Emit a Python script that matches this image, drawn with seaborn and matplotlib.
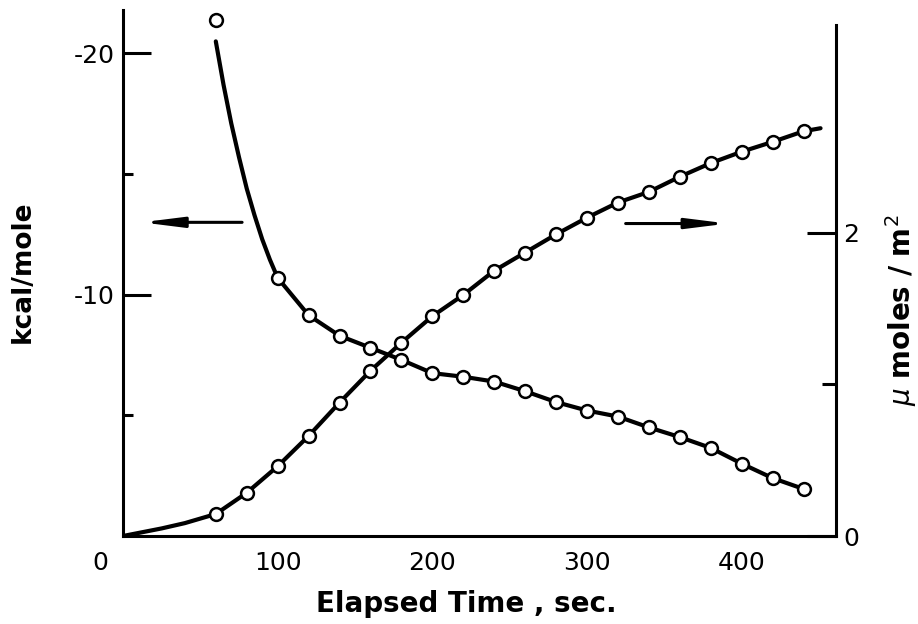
import matplotlib
matplotlib.use("Agg")
import matplotlib.pyplot as plt
from matplotlib.transforms import offset_copy
import pandas as pd
import seaborn as sns

# Elapsed time of each measurement (s)
time_s = [60, 80, 100, 120, 140, 160, 180, 200, 220, 240,
          260, 280, 300, 320, 340, 360, 380, 400, 420, 440]

# Heat of adsorption, kcal/mole (left axis); no reading at 80 s
heat_time = [60, 100, 120, 140, 160, 180, 200, 220, 240, 260,
             280, 300, 320, 340, 360, 380, 400, 420, 440]
heat_kcal = [-21.4, -10.7, -9.15, -8.3, -7.8, -7.3, -6.75, -6.6, -6.4, -6.0,
             -5.55, -5.2, -4.95, -4.5, -4.1, -3.65, -3.0, -2.4, -1.95]

# Drawn curve through the heat readings (starts just under the first point)
heat_curve_time = [60, 65, 70, 75, 80, 85, 90, 95] + heat_time[1:]
heat_curve_kcal = [-20.5, -18.7, -17.1, -15.7, -14.4, -13.3, -12.3, -11.45] + heat_kcal[1:]

# Amount adsorbed, micromoles/m^2 (right axis)
ads_umol = [0.145, 0.285, 0.46, 0.66, 0.88, 1.09, 1.275, 1.45, 1.59, 1.75,
            1.87, 1.99, 2.10, 2.20, 2.27, 2.37, 2.46, 2.535, 2.60, 2.67]

# Drawn curve for the adsorbed amount, from the origin to past the last point
ads_curve_time = [0, 25, 40] + time_s + [451]
ads_curve_umol = [0.0, 0.05, 0.085] + ads_umol + [2.69]

x_ticks = [100, 200, 300, 400]
left_major = [-20, -10]
left_minor = [-15, -5]
right_major = [0, 2]
right_minor = [1]

heat_pts = pd.DataFrame({"t": heat_time, "v": heat_kcal})
heat_line = pd.DataFrame({"t": heat_curve_time, "v": heat_curve_kcal})
ads_pts = pd.DataFrame({"t": time_s, "v": ads_umol})
ads_line = pd.DataFrame({"t": ads_curve_time, "v": ads_curve_umol})

sns.set_style("white")
plt.rcParams["font.family"] = ["DejaVu Sans"]
plt.rcParams["axes.unicode_minus"] = False
for key in ("text.color", "axes.labelcolor", "xtick.color", "ytick.color",
            "axes.edgecolor"):
    plt.rcParams[key] = "black"

fig = plt.figure(figsize=(9.18, 6.24), dpi=100)
ax = fig.add_axes([123 / 918, 88 / 624, 713 / 918, 526 / 624])
ax2 = ax.twinx()

line_kw = dict(color="black", linewidth=3.0, legend=False)
pt_kw = dict(s=85, facecolor="white", edgecolor="black", linewidth=1.8,
             zorder=5, legend=False)

sns.lineplot(data=heat_line, x="t", y="v", ax=ax, **line_kw)
sns.scatterplot(data=heat_pts, x="t", y="v", ax=ax, **pt_kw)
sns.lineplot(data=ads_line, x="t", y="v", ax=ax2, **line_kw)
sns.scatterplot(data=ads_pts, x="t", y="v", ax=ax2, **pt_kw)

ax.set_xlim(0, 461)
ax.set_ylim(0, -21.8)
ax2.set_ylim(0, 3.47)

# Spines
for a in (ax, ax2):
    a.spines["top"].set_visible(False)
    for s in a.spines.values():
        s.set_linewidth(2.2)
        s.set_color("black")
ax.spines["right"].set_visible(False)
ax2.spines["left"].set_visible(False)
ax2.spines["bottom"].set_visible(False)
ax2.spines["right"].set_bounds(0, 3.37)

# Ticks
ax.set_xticks(x_ticks)
ax.set_xticklabels([str(v) for v in x_ticks])
ax.set_yticks(left_major)
ax.set_yticklabels([str(v) for v in left_major])
ax.set_yticks(left_minor, minor=True)
ax2.set_yticks(right_major)
ax2.set_yticklabels([str(v) for v in right_major])
ax2.set_yticks(right_minor, minor=True)

ax.tick_params(axis="x", which="major", direction="in", length=20, width=2.2,
               pad=11, labelsize=18, colors="black")
ax.tick_params(axis="y", which="major", direction="in", length=20, width=2.2,
               pad=6, labelsize=18, colors="black")
ax.tick_params(axis="y", which="minor", direction="in", length=7, width=2.2,
               colors="black")
ax2.tick_params(axis="y", which="major", direction="in", length=21, width=2.2,
                pad=5, labelsize=18, colors="black")
ax2.tick_params(axis="y", which="minor", direction="in", length=10, width=2.2,
                colors="black")

# Shared origin label
ax.text(0, 0, "0", fontsize=18, ha="center", va="center", color="black",
        transform=offset_copy(ax.transData, fig=fig, x=-23, y=-27, units="dots"))

# Axis titles
ax.set_xlabel("Elapsed Time , sec.", fontsize=20, fontweight="semibold")
ax.xaxis.set_label_coords(0.481, -0.103)
ax.set_ylabel("kcal/mole", fontsize=19, fontweight="bold")
ax.yaxis.set_label_coords(-0.123, 0.502)
ax2.set_ylabel(r"$\mu$ moles / m$^2$", fontsize=20, fontweight="bold")
ax2.yaxis.set_label_coords(1.066, 0.43)

# Arrows pointing each curve to its axis
arrow_kw = dict(arrowstyle="-|>,head_length=1.2,head_width=0.15", lw=2.2,
                color="black", mutation_scale=20, shrinkA=0, shrinkB=0)
ax.annotate("", xy=(12, -13.0), xytext=(77, -13.0), arrowprops=arrow_kw)
ax.annotate("", xy=(391, -12.95), xytext=(325, -12.95), arrowprops=arrow_kw)

ax.set_facecolor("white")
fig.savefig("out.png", dpi=100, facecolor="white")
